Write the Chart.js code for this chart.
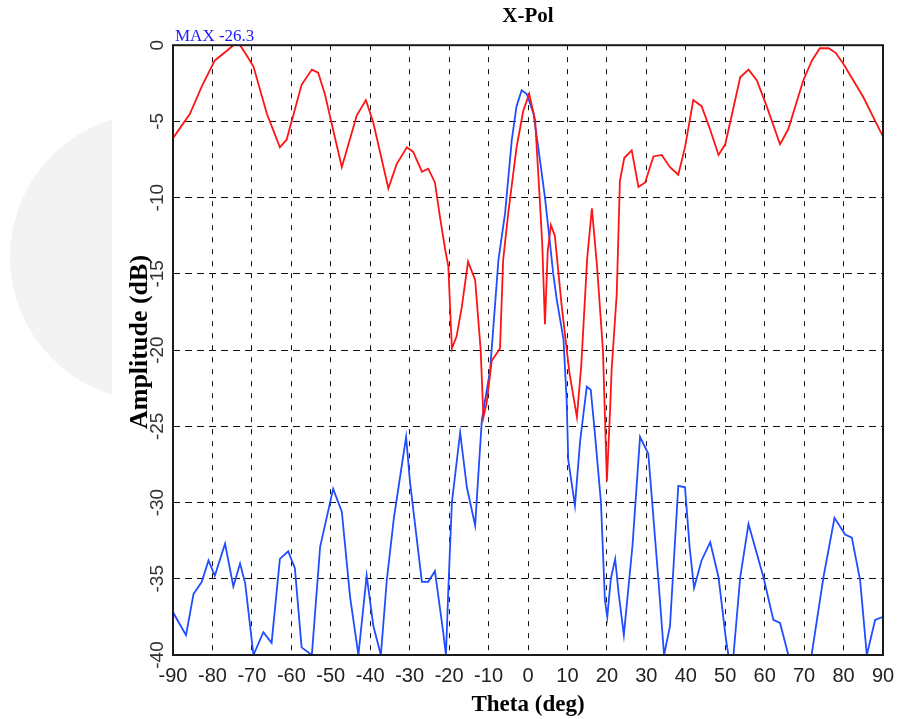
<!DOCTYPE html>
<html lang="en">
<head>
  <meta charset="UTF-8" />
  <title>X-Pol</title>
  <script src="https://cdn.jsdelivr.net/npm/chart.js"></script>
  <style>
    body { margin: 0; background: #fff; }
    .wrap { width: 898px; height: 719px; }
  </style>
</head>
<body>
  <div class="wrap"><canvas id="xpolChart" width="898" height="719"></canvas></div>

  <script>
    // tick labels
    const thetaTicks = [-90, -80, -70, -60, -50, -40, -30, -20, -10, 0, 10, 20, 30, 40, 50, 60, 70, 80, 90];
    const ampTicks = [0, -5, -10, -15, -20, -25, -30, -35, -40];
    const maxLabel = 'MAX -26.3';

    // red trace
    const redTheta = [-90, -85.7, -82.7, -79.4, -76.5, -74.7, -73, -71.5, -69.6, -66.2, -62.9, -61.2, -57.4, -54.8, -53.2, -51.5,
      -49.8, -47.2, -43.4, -41.1, -39.2, -35.4, -33.3, -30.7, -29.1, -26.9, -25.3, -23.6, -22.3, -21, -20.2, -19.3, -18.1,
      -16.8, -15.2, -13.4, -12, -11.3, -10.5, -9.2, -7.1, -6.3, -5, -2.9, -1.2, 0.3, 1.8, 3, 3.6, 4.3, 5, 5.8, 6.8, 8.5,
      10.5, 12.4, 13.5, 15, 16.2, 17.5, 19, 20, 20.8, 21.2, 22.5, 23.3, 24.4, 26.3, 28, 29.7, 31.8, 33.9, 36, 38.1, 39.8,
      41.9, 44, 46, 48.3, 50, 52, 53.8, 55.9, 58, 60.5, 63.9, 66, 69.8, 72, 74, 76.2, 78, 79.9, 85, 90];
    const redAmp = [-6.1, -4.5, -2.7, -1.0, -0.4, 0, 0, -0.6, -1.4, -4.5, -6.7, -6.2, -2.6, -1.6, -1.8, -3.2,
      -5.1, -8.0, -4.6, -3.6, -5.1, -9.4, -7.8, -6.7, -7.0, -8.3, -8.1, -9.0, -11.3, -13.4, -14.5, -19.9, -19.1,
      -17.2, -14.2, -15.4, -20, -24.4, -23.5, -20.7, -19.9, -14.1, -11.0, -6.7, -4.3, -3.2, -4.9, -10.2, -13, -18.3, -13.5, -11.8, -12.5, -17,
      -21.5, -24.4, -21, -14, -10.7, -14.5, -20, -28.6, -24, -21.3, -16.3, -8.9, -7.4, -6.9, -9.3, -9.0, -7.3, -7.2, -8.0, -8.5, -6.7,
      -3.6, -4.0, -5.4, -7.2, -6.5, -4.2, -2.1, -1.6, -2.3, -4.0, -6.5, -5.5, -2.3, -1.0, -0.2, -0.2, -0.5, -1.2, -3.4, -6.0];

    // blue trace
    const blueTheta = [-90, -86.7, -84.8, -82.7, -81, -79.4, -76.8, -74.7, -73, -71.7, -69.6, -67.1, -65, -62.9, -60.8, -59.1,
      -57.4, -54.8, -52.7, -49.4, -47.2, -45.1, -43, -40.9, -39.2, -37.3, -35.8, -34, -30.9, -29.9, -26.9, -25.3, -23.6,
      -21.5, -20.8, -20.2, -19.3, -17.2, -15.5, -13.4, -12.2, -11.7, -9.6, -7.5, -5.8, -4.1, -2.9, -1.6, -0.3, 1.4, 2.6,
      4.3, 5.2, 6.4, 7.3, 9, 9.8, 10.2, 11.9, 13.2, 14.9, 15.9, 16.8, 18.5, 19.5, 20.1, 21, 22.1, 23, 24.3, 26.5, 28.4,
      30.5, 33, 34.5, 36, 38.1, 39.8, 41, 42.1, 44, 46.2, 48.3, 50.2, 50.8, 52.1, 53.8, 55.9, 59.7, 62.2, 63.9, 66, 71.9,
      74.9, 77.7, 80.4, 82.1, 84.2, 85.9, 88, 90];
    const blueAmp = [-37.2, -38.7, -36.0, -35.2, -33.8, -34.8, -32.7, -35.5, -34.0, -35.3, -40, -38.5, -39.2, -33.7, -33.2, -34.3,
      -39.5, -40, -32.9, -29.1, -30.6, -36.2, -40, -34.8, -38.1, -40, -35.1, -31, -25.7, -28.7, -35.2, -35.2, -34.5,
      -38.5, -40, -35.7, -30.0, -25.4, -29, -31.5, -26.6, -24.6, -21.3, -14.1, -11.0, -6.2, -4.0, -2.95, -3.2, -4.5, -6.7,
      -10.0, -12.1, -15.0, -16.7, -19.3, -23.3, -27.2, -30.2, -26, -22.4, -22.6, -25, -30.0, -36.4, -37.5, -35, -33.7, -36, -38.7, -32.8, -25.7,
      -26.8, -34.9, -40, -38.1, -28.9, -29.0, -33, -35.6, -33.8, -32.6, -34.9, -39.0, -40, -40, -34.9, -31.4, -34.9, -37.7, -37.9, -40, -40,
      -34.9, -31.0, -32.1, -32.3, -35.1, -40, -37.7, -37.5];

    const toPoints = (xs, ys) => xs.map((x, i) => ({ x, y: ys[i] }));

    const decor = {
      id: 'decor',
      beforeDraw(chart) {
        const ctx = chart.ctx;
        ctx.save();
        ctx.fillStyle = '#fff';
        ctx.fillRect(0, 0, chart.width, chart.height);
        // faint round watermark at the left, cut off at a vertical edge
        ctx.beginPath();
        ctx.rect(0, 0, 112, chart.height);
        ctx.clip();
        ctx.fillStyle = '#f3f3f3';
        ctx.beginPath();
        ctx.arc(154, 257, 144, 0, Math.PI * 2);
        ctx.fill();
        ctx.restore();
      },
      afterDraw(chart) {
        const { ctx, chartArea: a } = chart;
        const y = chart.scales.y;
        ctx.save();
        ctx.strokeStyle = '#1a1a1a';
        ctx.lineWidth = 2;
        ctx.strokeRect(a.left, a.top, a.right - a.left, a.bottom - a.top);

        // y tick labels, written bottom-to-top
        ctx.fillStyle = '#333';
        ctx.font = '19px "Liberation Sans"';
        ctx.textAlign = 'center';
        ctx.textBaseline = 'middle';
        y.ticks.forEach(t => {
          ctx.save();
          ctx.translate(a.left - 15, y.getPixelForValue(t.value));
          ctx.rotate(-Math.PI / 2);
          ctx.fillText(String(t.value), 0, 0);
          ctx.restore();
        });

        // y title
        ctx.fillStyle = '#000';
        ctx.font = 'bold 26px "Liberation Serif"';
        ctx.save();
        ctx.translate(140, 342);
        ctx.rotate(-Math.PI / 2);
        ctx.fillText('Amplitude (dB)', 0, 0);
        ctx.restore();

        ctx.fillStyle = '#1a1aff';
        ctx.font = '17px "Liberation Serif"';
        ctx.textAlign = 'left';
        ctx.textBaseline = 'alphabetic';
        ctx.fillText(maxLabel, a.left + 2, a.top - 4);
        ctx.restore();
      }
    };

    new Chart(document.getElementById('xpolChart'), {
      type: 'line',
      data: {
        datasets: [
          { label: 'red', data: toPoints(redTheta, redAmp), borderColor: '#ff1414', borderWidth: 1.8, pointRadius: 0, tension: 0 },
          { label: 'blue', data: toPoints(blueTheta, blueAmp), borderColor: '#1f4dff', borderWidth: 1.8, pointRadius: 0, tension: 0 }
        ]
      },
      options: {
        responsive: false,
        animation: false,
        layout: { padding: { left: 0, right: 15, top: 0, bottom: 0 } },
        plugins: {
          legend: { display: false },
          tooltip: { enabled: false },
          title: {
            display: true,
            text: 'X-Pol',
            fullSize: false,
            color: '#000',
            font: { family: '"Liberation Serif"', size: 21, weight: 'bold' },
            padding: { top: 4, bottom: 16 }
          }
        },
        scales: {
          x: {
            type: 'linear',
            min: -90,
            max: 90,
            afterBuildTicks: s => { s.ticks = thetaTicks.map(v => ({ value: v })); },
            afterFit: s => { s.paddingLeft = 0; s.paddingRight = 0; s.height = 64; },
            ticks: { color: '#222', font: { family: '"Liberation Sans"', size: 20 }, padding: 9, maxRotation: 0 },
            grid: { color: '#111', lineWidth: 1, drawTicks: false },
            border: { display: false, dash: [5, 7] },
            title: {
              display: true,
              text: 'Theta (deg)',
              color: '#000',
              font: { family: '"Liberation Serif"', size: 23, weight: 'bold' },
              padding: { top: 0, bottom: 0 }
            }
          },
          y: {
            type: 'linear',
            min: -40,
            max: 0,
            afterBuildTicks: s => { s.ticks = ampTicks.map(v => ({ value: v })); },
            afterFit: s => { s.paddingTop = 0; s.paddingBottom = 0; s.width = 173; },
            ticks: { display: false },
            grid: { color: '#111', lineWidth: 1, drawTicks: false },
            border: { display: false, dash: [7, 5] }
          }
        }
      },
      plugins: [decor]
    });
  </script>
</body>
</html>
